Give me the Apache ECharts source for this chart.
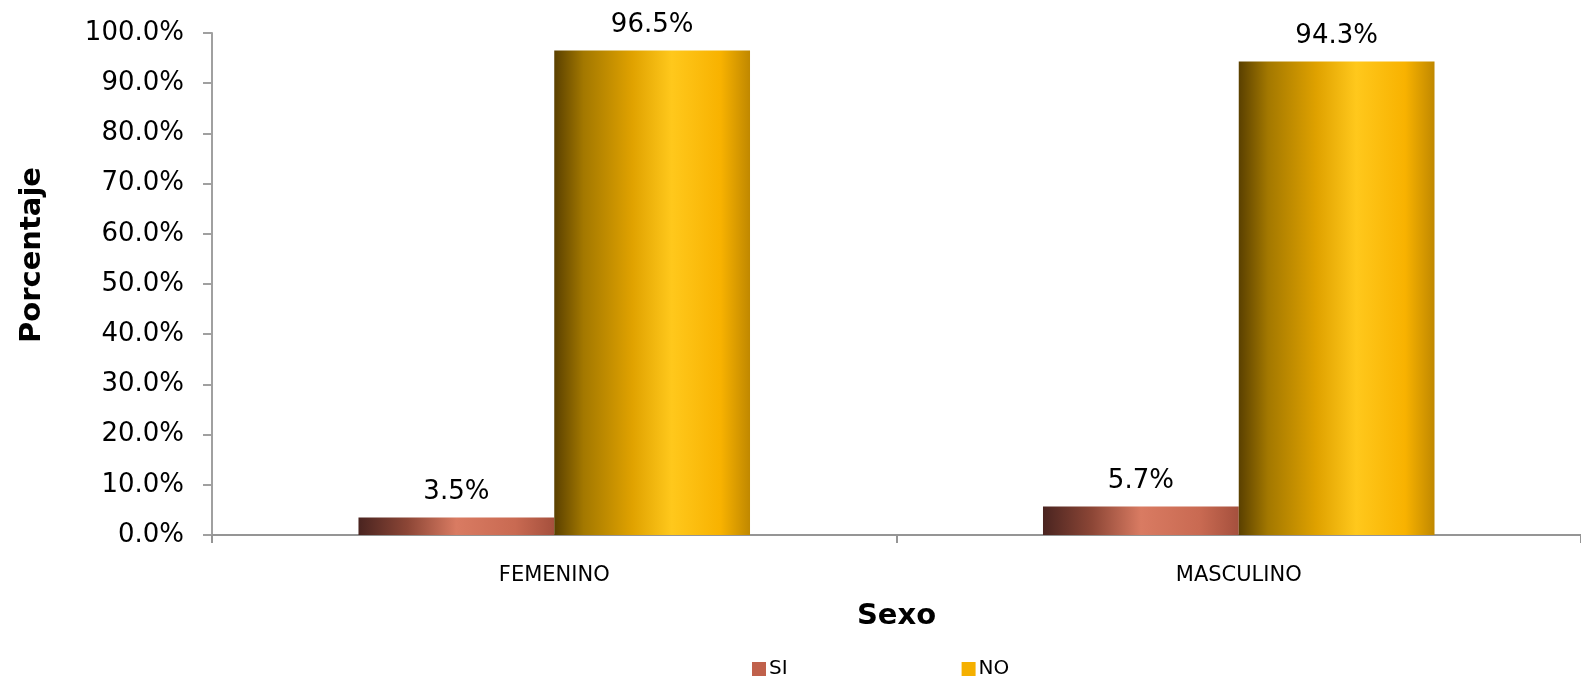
<!DOCTYPE html>
<html><head><meta charset="utf-8">
<script src="https://cdn.jsdelivr.net/npm/echarts@6/dist/echarts.min.js"></script>
<style>html,body{margin:0;padding:0;background:#fff}#c{width:1581px;height:680px}</style>
</head><body><div id="c"></div>
<script>
const categories = ['FEMENINO', 'MASCULINO'];
const siValues = [3.5, 5.7];
const noValues = [96.5, 94.3];
const seriesNames = ['SI', 'NO'];
const yTitle = 'Porcentaje';
const xTitle = 'Sexo';
const FONT = '"DejaVu Sans", sans-serif';

const siGrad = {type:'linear',x:0,y:0,x2:1,y2:0,colorStops:[
  {offset:0,color:'#4a2420'},{offset:0.25,color:'#8c4636'},{offset:0.5,color:'#d97b62'},{offset:0.8,color:'#c96a52'},{offset:1,color:'#a5503d'}]};
const noGrad = {type:'linear',x:0,y:0,x2:1,y2:0,colorStops:[
  {offset:0,color:'#5a4000'},{offset:0.15,color:'#a37800'},{offset:0.4,color:'#e0a200'},{offset:0.6,color:'#ffc81c'},{offset:0.85,color:'#f8b200'},{offset:1,color:'#c08800'}]};

const chart = echarts.init(document.getElementById('c'), null, {renderer:'canvas'});
chart.setOption({
  animation:false,
  grid:{left:212, right:0, top:33, bottom:145},
  legend:{
    left:752, top:659, padding:0, itemWidth:14, itemHeight:14, itemGap:174, itemGap2:0, icon:'rect',
    textStyle:{fontFamily:FONT, fontSize:20, color:'#000', padding:[0,0,0,-2]},
    data:[{name:seriesNames[0], itemStyle:{color:'#c0614b'}},{name:seriesNames[1], itemStyle:{color:'#f5b000'}}]
  },
  graphic:[{
    type:'text', x:32, y:255, rotation:Math.PI/2,
    style:{text:yTitle, font:'bold 29px "DejaVu Sans", sans-serif', fill:'#000', align:'center', verticalAlign:'middle'}
  }],
  xAxis:{
    type:'category', data:categories,
    name:xTitle, nameLocation:'middle', nameGap:67,
    nameTextStyle:{fontFamily:FONT, fontSize:29, fontWeight:'bold', color:'#000'},
    axisLine:{lineStyle:{color:'#959595', width:2}},
    axisTick:{show:true, alignWithLabel:false, length:8, lineStyle:{color:'#959595', width:2}},
    axisLabel:{fontFamily:FONT, fontSize:21, color:'#000', margin:30}
  },
  yAxis:{
    type:'value', min:0, max:100, interval:10,
    axisLine:{show:true, lineStyle:{color:'#a0a0a0', width:2}},
    axisTick:{show:true, length:9, lineStyle:{color:'#a0a0a0', width:2}},
    splitLine:{show:false},
    axisLabel:{fontFamily:FONT, fontSize:26, color:'#000', margin:28, formatter:v=>v.toFixed(1)+'%'}
  },
  series:[
    {name:seriesNames[0], type:'bar', data:siValues, barWidth:'28.6%', barGap:'0%',
     itemStyle:{color:siGrad},
     label:{show:true, position:'top', distance:12, fontFamily:FONT, fontSize:26, color:'#000', formatter:p=>p.value.toFixed(1)+'%'}},
    {name:seriesNames[1], type:'bar', data:noValues, barWidth:'28.6%', barGap:'0%',
     itemStyle:{color:noGrad},
     label:{show:true, position:'top', distance:12, fontFamily:FONT, fontSize:26, color:'#000', formatter:p=>p.value.toFixed(1)+'%'}}
  ]
});
</script></body></html>
